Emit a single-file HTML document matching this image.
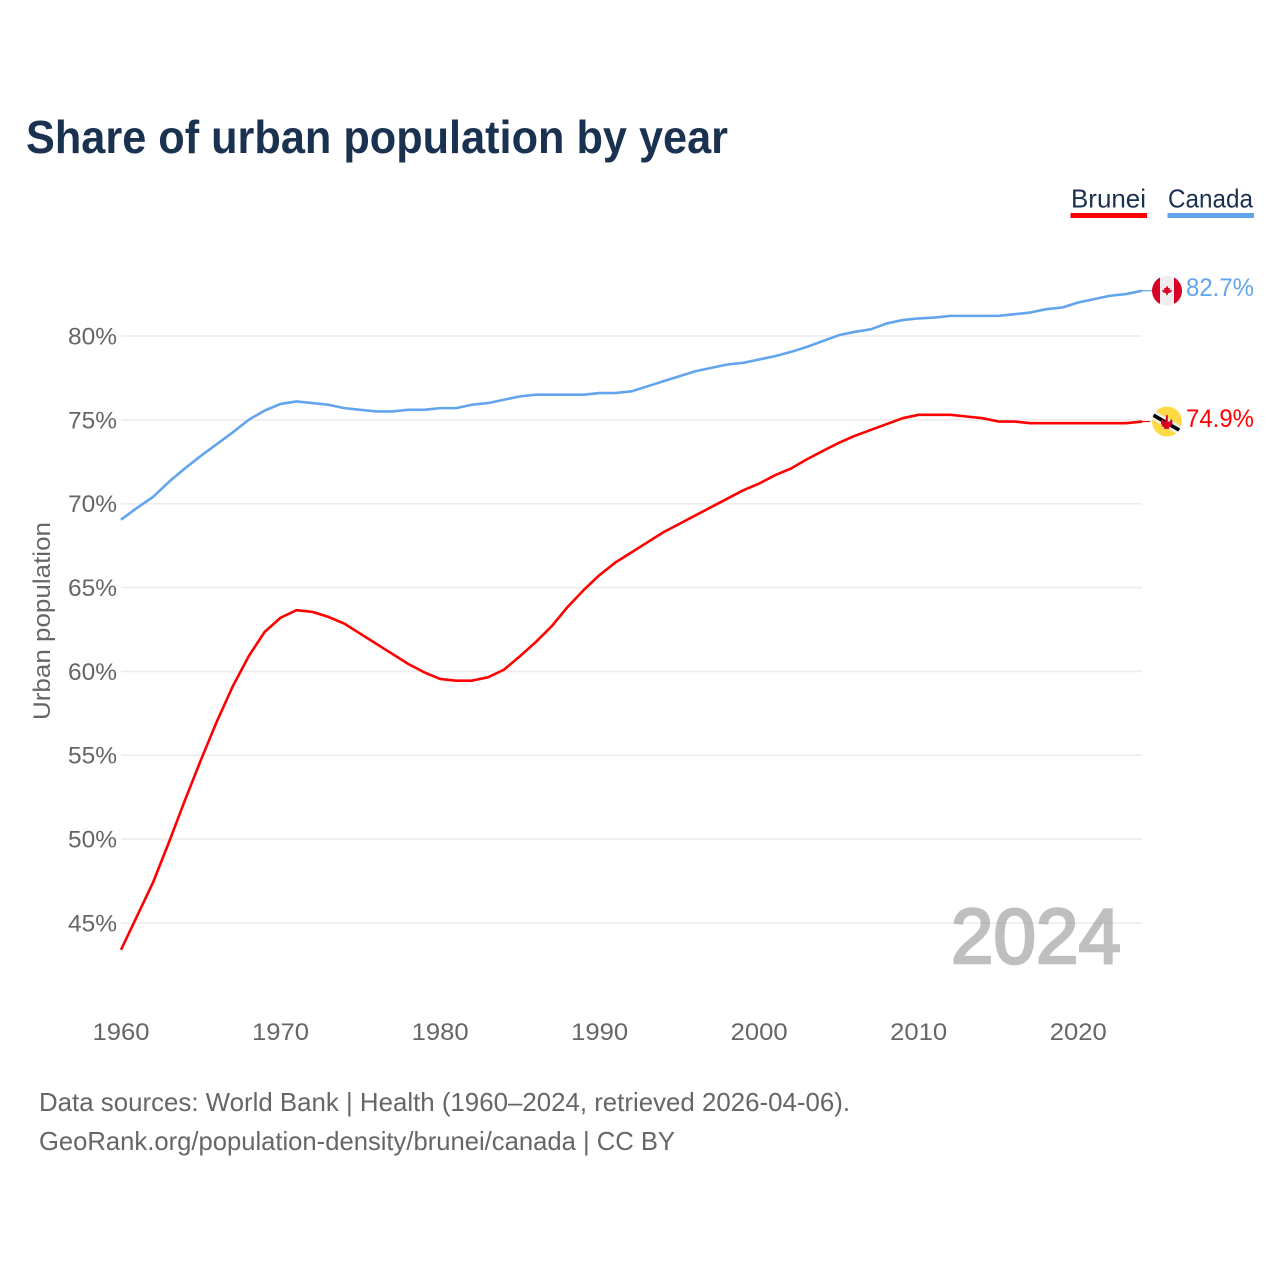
<!DOCTYPE html>
<html lang="en">
<head>
<meta charset="utf-8">
<title>Share of urban population by year</title>
<style>
html,body{margin:0;padding:0;background:#fff;width:1280px;height:1280px;overflow:hidden}
svg{display:block;font-family:"Liberation Sans",sans-serif}
</style>
</head>
<body>
<svg id="chart" width="1280" height="1280" viewBox="0 0 1280 1280" xmlns="http://www.w3.org/2000/svg">
  <defs>
    <clipPath id="flag-clip"><circle cx="0" cy="0" r="15"/></clipPath>
  </defs>
  <text x="26" y="153" font-size="46" font-weight="700" fill="#1a3150" textLength="702" lengthAdjust="spacingAndGlyphs">Share of urban population by year</text>

  <g>
    <g>
      <text x="1071" y="207.5" font-size="26" fill="#1a3150" textLength="75" lengthAdjust="spacingAndGlyphs">Brunei</text>
      <rect x="1070.5" y="213" width="76.5" height="5" fill="#ff0000"/>
    </g>
    <g>
      <text x="1168" y="207.5" font-size="26" fill="#1a3150" textLength="85" lengthAdjust="spacingAndGlyphs">Canada</text>
      <rect x="1167.5" y="213" width="86.5" height="5" fill="#62a5ec"/>
    </g>
  </g>

  <text x="1121" y="963" text-anchor="end" font-size="78" fill="#bfbfbf" stroke="#bfbfbf" stroke-width="2.6" textLength="170" lengthAdjust="spacingAndGlyphs">2024</text>

  <g id="grid"></g>
  <g id="yticks"></g>
  <g id="xticks"></g>
  <text transform="translate(50,621) rotate(-90)" text-anchor="middle" font-size="24" fill="#666666" textLength="198" lengthAdjust="spacingAndGlyphs">Urban population</text>

  <g id="series"></g>

  <g id="flag-canada">
    <g clip-path="url(#flag-clip)">
      <rect x="-15" y="-15" width="30" height="30" fill="#eeeeee"/>
      <rect x="-15" y="-15" width="8" height="30" fill="#d80027"/>
      <rect x="7" y="-15" width="8" height="30" fill="#d80027"/>
      <polygon points="0,-5 1.5,-2.5 3,-3 2.5,-0.5 5,-1 4,1.5 1,2.5 0.5,4.5 -0.5,4.5 -1,2.5 -4,1.5 -5,-1 -2.5,-0.5 -3,-3 -1.5,-2.5" fill="#d80027"/>
    </g>
  </g>
  <g id="flag-brunei">
    <g clip-path="url(#flag-clip)">
      <rect x="-15" y="-15" width="30" height="30" fill="#ffda44"/>
      <g transform="translate(0,1.5) rotate(30)">
        <rect x="-25" y="-4.4" width="50" height="8.8" fill="#eeeeee"/>
        <rect x="-25" y="-1.8" width="50" height="3.6" fill="#000000"/>
      </g>
      <path d="M-0.8,-6.5h1.6v6.5h2.2l0.6,-2h1.6l0.3,4-2,3.5h-1.5l0.5,1.8h-5.6l0.5,-1.8h-1.5l-2,-3.5 0.3,-4h1.6l0.6,2h2.2z" fill="#d80027"/>
    </g>
  </g>
  <text id="value-canada" x="1186" text-anchor="start" font-size="25" fill="#62a5ec" textLength="68" lengthAdjust="spacingAndGlyphs"></text>
  <text id="value-brunei" x="1186" text-anchor="start" font-size="25" fill="#ff0000" textLength="68" lengthAdjust="spacingAndGlyphs"></text>

  <g>
    <text x="39" y="1111" font-size="26" fill="#666666" textLength="811" lengthAdjust="spacingAndGlyphs">Data sources: World Bank | Health (1960–2024, retrieved 2026-04-06).</text>
    <text x="39" y="1150" font-size="26" fill="#666666" textLength="636" lengthAdjust="spacingAndGlyphs">GeoRank.org/population-density/brunei/canada | CC BY</text>
  </g>
</svg>
<script>
const firstYear = 1960;
const lastYear = 2024;
const yTickValues = [45, 50, 55, 60, 65, 70, 75, 80];
const xTickValues = [1960, 1970, 1980, 1990, 2000, 2010, 2020];
const bruneiValues = [43.4,45.4,47.4,49.8,52.3,54.7,57.0,59.1,60.9,62.35,63.2,63.65,63.55,63.25,62.85,62.25,61.65,61.05,60.45,59.95,59.55,59.45,59.45,59.65,60.1,60.9,61.75,62.7,63.85,64.85,65.75,66.5,67.1,67.7,68.3,68.8,69.3,69.8,70.3,70.8,71.2,71.7,72.1,72.65,73.15,73.63,74.05,74.4,74.75,75.1,75.3,75.3,75.3,75.2,75.1,74.9,74.9,74.8,74.8,74.8,74.8,74.8,74.8,74.8,74.9];
const canadaValues = [69.05,69.75,70.4,71.3,72.1,72.85,73.55,74.25,75.0,75.55,75.95,76.1,76.0,75.9,75.7,75.6,75.5,75.5,75.6,75.6,75.7,75.7,75.9,76.0,76.2,76.4,76.5,76.5,76.5,76.5,76.6,76.6,76.7,77.0,77.3,77.6,77.9,78.1,78.3,78.4,78.6,78.8,79.05,79.35,79.7,80.05,80.25,80.4,80.75,80.95,81.05,81.1,81.2,81.2,81.2,81.2,81.3,81.4,81.6,81.7,82.0,82.2,82.4,82.5,82.7];

const NS = 'http://www.w3.org/2000/svg';
const xScale = year => 121 + (year - firstYear) * (1142 - 121) / (lastYear - firstYear);
const yScale = value => 336 + (80 - value) * (923 - 336) / 35;

const grid = document.getElementById('grid');
const yticks = document.getElementById('yticks');
const xticks = document.getElementById('xticks');
const series = document.getElementById('series');

yTickValues.forEach(v => {
  const line = document.createElementNS(NS, 'line');
  
  
  line.setAttribute('x1', xScale(firstYear));
  line.setAttribute('x2', xScale(lastYear));
  line.setAttribute('y1', yScale(v));
  line.setAttribute('y2', yScale(v));
  line.setAttribute('stroke', '#888888');
  line.setAttribute('stroke-opacity', '0.15');
  line.setAttribute('stroke-width', '1.7');
  grid.appendChild(line);

  const label = document.createElementNS(NS, 'text');
  
  
  label.setAttribute('x', 117);
  label.setAttribute('y', yScale(v) + 8.4);
  label.setAttribute('text-anchor', 'end');
  label.setAttribute('font-size', '24');
  label.setAttribute('fill', '#666666');
  label.setAttribute('textLength', '49');
  label.setAttribute('lengthAdjust', 'spacingAndGlyphs');
  label.textContent = v + '%';
  yticks.appendChild(label);
});

xTickValues.forEach(y => {
  const label = document.createElementNS(NS, 'text');
  
  
  label.setAttribute('x', xScale(y));
  label.setAttribute('y', 1040);
  label.setAttribute('text-anchor', 'middle');
  label.setAttribute('font-size', '24');
  label.setAttribute('fill', '#666666');
  label.setAttribute('textLength', '57');
  label.setAttribute('lengthAdjust', 'spacingAndGlyphs');
  label.textContent = y;
  xticks.appendChild(label);
});

function linePath(values) {
  const pts = values.map((v, i) => xScale(firstYear + i).toFixed(2) + ',' + yScale(v).toFixed(2));
  return 'M' + pts.join('L');
}

const canadaLine = document.createElementNS(NS, 'path');


canadaLine.setAttribute('d', linePath(canadaValues));
canadaLine.setAttribute('fill', 'none');
canadaLine.setAttribute('stroke', '#62a5ec');
canadaLine.setAttribute('stroke-width', '2.6');
canadaLine.setAttribute('stroke-linejoin', 'round');
series.appendChild(canadaLine);

const bruneiLine = document.createElementNS(NS, 'path');


bruneiLine.setAttribute('d', linePath(bruneiValues));
bruneiLine.setAttribute('fill', 'none');
bruneiLine.setAttribute('stroke', '#ff0000');
bruneiLine.setAttribute('stroke-width', '2.6');
bruneiLine.setAttribute('stroke-linejoin', 'round');
series.appendChild(bruneiLine);

const canadaEnd = canadaValues[canadaValues.length - 1];
const bruneiEnd = bruneiValues[bruneiValues.length - 1];

const canadaConnector = document.createElementNS(NS, 'line');


canadaConnector.setAttribute('x1', xScale(lastYear));
canadaConnector.setAttribute('x2', 1152);
canadaConnector.setAttribute('y1', yScale(canadaEnd));
canadaConnector.setAttribute('y2', yScale(canadaEnd));
canadaConnector.setAttribute('stroke', '#62a5ec');
canadaConnector.setAttribute('stroke-width', '1.2');
series.appendChild(canadaConnector);

const bruneiConnector = document.createElementNS(NS, 'line');


bruneiConnector.setAttribute('x1', xScale(lastYear));
bruneiConnector.setAttribute('x2', 1150);
bruneiConnector.setAttribute('y1', yScale(bruneiEnd));
bruneiConnector.setAttribute('y2', yScale(bruneiEnd));
bruneiConnector.setAttribute('stroke', '#ff0000');
bruneiConnector.setAttribute('stroke-width', '1.2');
series.appendChild(bruneiConnector);

document.getElementById('flag-canada').setAttribute('transform', 'translate(1167,' + yScale(canadaEnd) + ')');
document.getElementById('flag-brunei').setAttribute('transform', 'translate(1167,' + yScale(bruneiEnd) + ')');
const canadaText = document.getElementById('value-canada');
canadaText.setAttribute('y', yScale(canadaEnd) + 5.5);
canadaText.textContent = canadaEnd.toFixed(1) + '%';
const bruneiText = document.getElementById('value-brunei');
bruneiText.setAttribute('y', yScale(bruneiEnd) + 5.5);
bruneiText.textContent = bruneiEnd.toFixed(1) + '%';
</script>
</body>
</html>
